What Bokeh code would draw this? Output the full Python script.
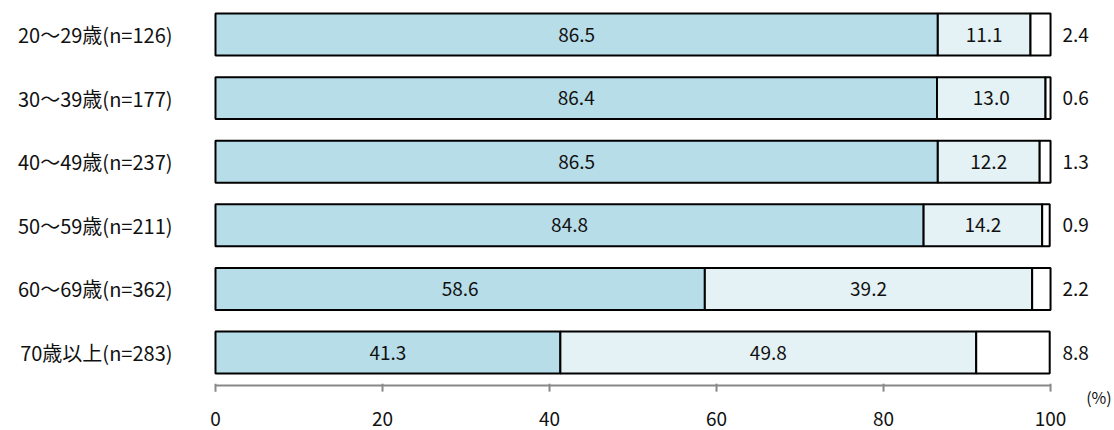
from bokeh.plotting import figure
from bokeh.models import Range1d, FixedTicker, ColumnDataSource
from bokeh.core.properties import value
from bokeh.embed import file_html
from bokeh.resources import INLINE

categories = ["20～29歳(n=126)", "30～39歳(n=177)", "40～49歳(n=237)",
              "50～59歳(n=211)", "60～69歳(n=362)", "70歳以上(n=283)"]
seg1 = [86.5, 86.4, 86.5, 84.8, 58.6, 41.3]
seg2 = [11.1, 13.0, 12.2, 14.2, 39.2, 49.8]
seg3 = [2.4, 0.6, 1.3, 0.9, 2.2, 8.8]
x_ticks = [0, 20, 40, 60, 80, 100]
unit_label = "(%)"

FONT = "Noto Sans CJK JP"
TXT = "#111111"
colors = ["#b7dde8", "#e4f1f5", "#ffffff"]

# layout constants (data units)
AXIS_Y = 5.519
TICK_TOP = 5.49
TICK_BOT = 5.615
TICK_LAB_Y = 6.05
UNIT_Y = 5.70
UNIT_X = 105.8

p = figure(width=1114, height=430, output_backend="svg", toolbar_location=None,
           x_range=Range1d(-2.395, 107.66), y_range=Range1d(6.226, -0.535),
           min_border_left=195, min_border_right=0, min_border_top=0, min_border_bottom=0)
p.outline_line_color = None
p.xgrid.visible = False
p.ygrid.visible = False
p.xaxis.visible = False
p.background_fill_color = "white"
p.border_fill_color = "white"

ys = list(range(len(categories)))
left = [0.0] * len(ys)
for vals, col in zip([seg1, seg2, seg3], colors):
    right = [l + v for l, v in zip(left, vals)]
    src = ColumnDataSource(dict(y=ys, left=left, right=right,
                                mid=[(l + r) / 2 for l, r in zip(left, right)],
                                lab=[f"{v:.1f}" for v in vals]))
    p.hbar(y="y", left="left", right="right", height=0.66, source=src,
           fill_color=col, line_color="black", line_width=2)
    if col != "#ffffff":
        p.text(x="mid", y="y", text="lab", source=src, text_align="center",
               text_baseline="middle", text_font=value(FONT), text_font_size="19px",
               text_color=TXT)
    else:
        src2 = ColumnDataSource(dict(y=ys, x=[100] * len(ys), lab=[f"{v:.1f}" for v in vals]))
        p.text(x="x", y="y", text="lab", source=src2, x_offset=12, text_align="left",
               text_baseline="middle", text_font=value(FONT), text_font_size="19px",
               text_color=TXT)
    left = right

# manual x axis
p.segment(x0=[x_ticks[0]], x1=[x_ticks[-1]], y0=[AXIS_Y], y1=[AXIS_Y],
          line_color="#888888", line_width=2)
p.segment(x0=x_ticks, x1=x_ticks, y0=[TICK_TOP] * len(x_ticks), y1=[TICK_BOT] * len(x_ticks),
          line_color="#888888", line_width=2)
p.text(x=x_ticks, y=[TICK_LAB_Y] * len(x_ticks), text=[str(t) for t in x_ticks],
       text_align="center", text_baseline="middle", text_font=value(FONT),
       text_font_size="19px", text_color=TXT)
p.text(x=[UNIT_X], y=[UNIT_Y], text=[unit_label], text_align="center",
       text_baseline="middle", text_font=value(FONT), text_font_size="16px", text_color=TXT)

# y axis with category labels
ya = p.yaxis[0]
ya.ticker = FixedTicker(ticks=ys)
ya.major_label_overrides = {i: c for i, c in enumerate(categories)}
ya.axis_line_color = None
ya.major_tick_line_color = None
ya.minor_tick_line_color = None
ya.major_label_standoff = 17
ya.major_label_text_font = FONT
ya.major_label_text_font_size = "20px"
ya.major_label_text_color = TXT

open("out.html", "w").write(file_html(p, INLINE))
